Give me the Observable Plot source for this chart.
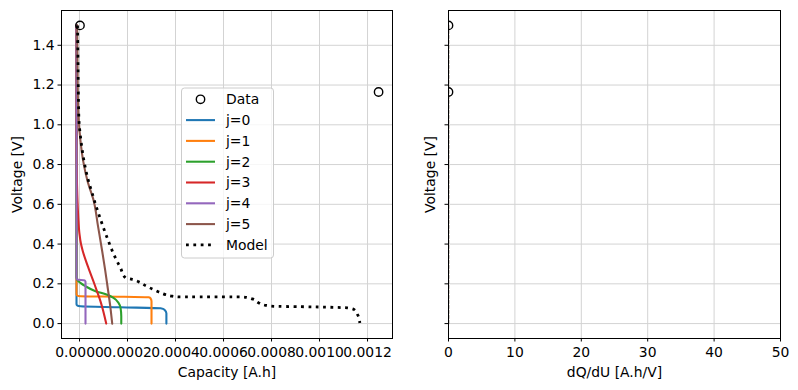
<!DOCTYPE html>
<html>
<head>
<meta charset="utf-8">
<script src="https://cdn.jsdelivr.net/npm/d3@7"></script>
<script src="https://cdn.jsdelivr.net/npm/@observablehq/plot@0.6"></script>
<style>
  html, body { margin: 0; padding: 0; background: white; }
  #fig { position: relative; width: 798px; height: 390px; font-family: "DejaVu Sans", sans-serif; }
  #fig > div { position: absolute; top: 0; }
</style>
</head>
<body>
<div id="fig"><div id="left" style="left:0"></div><div id="right" style="left:400px"></div></div>
<script>
// ---- data ----
const capTicks = [0, 0.0002, 0.0004, 0.0006, 0.0008, 0.0010, 0.0012];
const voltTicks = [0, 0.2, 0.4, 0.6, 0.8, 1.0, 1.2, 1.4];
const dqduTicks = [0, 10, 20, 30, 40, 50];

const dataCap = [0.000002, 0.001246];
const dataV = [1.5, 1.165];
const dataDqdu = [0, 0];

const j0Cap = [-0.0000125, -0.0000125, -0.0000083, 0.0000042, 0.000171, 0.000338, 0.000354, 0.000362, 0.000362];
const j0V   = [1.5, 0.097, 0.090, 0.087, 0.082, 0.077, 0.070, 0.052, 0.0];

const j1Cap = [-0.0000125, -0.0000125, -0.0000083, 0.0000042, 0.000171, 0.000288, 0.000296, 0.0003, 0.0003];
const j1V   = [1.5, 0.148, 0.140, 0.1375, 0.135, 0.132, 0.127, 0.112, 0.0];

const j2Cap = [-0.0000125, -0.0000125, -0.0000042, 0.000025, 0.0000667, 0.0001125, 0.0001417, 0.0001625, 0.000171, 0.000174, 0.000174];
const j2V   = [1.5, 0.232, 0.213, 0.188, 0.163, 0.146, 0.129, 0.104, 0.079, 0.037, 0.0];

const j3Cap = [-0.0000125, -0.0000125, -0.0000113, -0.0000083, -0.000005, 0.0, 0.0000063, 0.0000138, 0.0000271, 0.0000375, 0.0000625, 0.0000771, 0.0000875, 0.0000958, 0.0001042, 0.0001113];
const j3V   = [1.5, 0.868, 0.75, 0.616, 0.53, 0.45, 0.40, 0.364, 0.314, 0.279, 0.198, 0.148, 0.112, 0.077, 0.037, 0.0];

const j4Cap = [-0.0000125, -0.0000125, -0.0000083, 0.0000208, 0.000025, 0.000025];
const j4V   = [1.5, 0.228, 0.221, 0.218, 0.21, 0.0];

const j5Cap = [-0.0000096, -0.0000083, -0.0000063, -0.0000029, 0.0000042, 0.0000154, 0.0000333, 0.0000596, 0.0000771, 0.0000946, 0.0001063, 0.0001154, 0.0001292, 0.0001363];
const j5V   = [1.5, 1.32, 1.12, 1.02, 0.918, 0.817, 0.717, 0.616, 0.49, 0.364, 0.274, 0.198, 0.077, 0.0];

const modelCap = [-0.0000083, -0.0000063, -0.0000042, -0.0000021, 0.0000063, 0.0000188, 0.0000375, 0.0000542, 0.0000667, 0.0000854, 0.0001154, 0.0001429, 0.0001708, 0.0001917, 0.0002196, 0.0002471, 0.000275, 0.0003029, 0.0003304, 0.0003583, 0.0003863, 0.0004138, 0.0006833, 0.0007196, 0.0007471, 0.000775, 0.0008096, 0.0009208, 0.0011154, 0.0011429, 0.0011596, 0.0011679];
const modelV   = [1.5, 1.32, 1.12, 1.02, 0.918, 0.817, 0.717, 0.65, 0.60, 0.532, 0.431, 0.348, 0.28, 0.23, 0.222, 0.21, 0.191, 0.174, 0.159, 0.146, 0.138, 0.134, 0.134, 0.124, 0.104, 0.092, 0.087, 0.085, 0.079, 0.071, 0.042, 0.003];

const dqduLineV = [1.5, 0.0];
const dqduLineVal = [0.05, 0.05];

const seriesNames = ["j=0", "j=1", "j=2", "j=3", "j=4", "j=5"];
const seriesColors = ["#1f77b4", "#ff7f0e", "#2ca02c", "#d62728", "#9467bd", "#8c564b"];
const seriesCap = [j0Cap, j1Cap, j2Cap, j3Cap, j4Cap, j5Cap];
const seriesV = [j0V, j1V, j2V, j3V, j4V, j5V];

// ---- build tables ----
const zip = (xs, ys, extra = {}) => xs.map((x, i) => ({x, y: ys[i], ...extra}));
const curves = seriesNames.flatMap((n, k) => zip(seriesCap[k], seriesV[k], {s: n}));
const model = zip(modelCap, modelV);
const data = zip(dataCap, dataV);
const data2 = zip(dataDqdu, dataV);
const dq = zip(dqduLineVal, dqduLineV);

const style = {fontFamily: "DejaVu Sans", fontSize: "13.9px", color: "black", background: "white", overflow: "visible"};
const grid = "#d3d3d3";
const yDomain = [-0.075, 1.575];

const left = Plot.plot({
  width: 400, height: 390,
  marginLeft: 61, marginRight: 8, marginTop: 10, marginBottom: 52,
  style,
  x: {domain: [-0.000075, 0.001304]},
  y: {domain: yDomain},
  color: {domain: seriesNames, range: seriesColors},
  marks: [
    Plot.gridX(capTicks, {stroke: grid, strokeOpacity: 1}),
    Plot.gridY(voltTicks, {stroke: grid, strokeOpacity: 1}),
    Plot.line(curves, {x: "x", y: "y", z: "s", stroke: "s", strokeWidth: 2.08, curve: "monotone-y"}),
    Plot.line(model, {x: "x", y: "y", stroke: "black", strokeWidth: 2.78, strokeDasharray: "2.78,4.58", strokeLinecap: "butt", curve: "monotone-y"}),
    Plot.dot(data, {x: "x", y: "y", r: 4.2, stroke: "black", strokeWidth: 1.4, fill: "none"}),
    Plot.frame({stroke: "black", strokeWidth: 1}),
    Plot.axisX(capTicks, {tickFormat: d3.format(".4f"), tickSize: 3.5, tickPadding: 5, label: "Capacity [A.h]", labelAnchor: "center", labelArrow: "none", labelOffset: 38}),
    Plot.axisY(voltTicks, {tickFormat: d3.format(".1f"), tickSize: 3.5, tickPadding: 3.5, label: "Voltage [V]", labelAnchor: "center", labelArrow: "none", labelOffset: 49})
  ]
});
document.getElementById("left").appendChild(left);

// legend inside the left axes
{
  const svg = d3.select(left);
  const g = svg.append("g").attr("font-family", "DejaVu Sans").attr("font-size", "13.9px").attr("text-anchor", "start");
  g.append("rect").attr("x", 181.5).attr("y", 88).attr("width", 92).attr("height", 170).attr("rx", 3)
    .attr("fill", "white").attr("fill-opacity", 0.8).attr("stroke", "#cccccc");
  const items = [{label: "Data", kind: "dot"}]
    .concat(seriesNames.map((n, i) => ({label: n, kind: "line", color: seriesColors[i]})))
    .concat([{label: "Model", kind: "dotted"}]);
  items.forEach((it, i) => {
    const y = 99.3 + i * 20.8;
    if (it.kind === "dot") {
      g.append("circle").attr("cx", 200.5).attr("cy", y).attr("r", 4.2).attr("fill", "none").attr("stroke", "black").attr("stroke-width", 1.4);
    } else if (it.kind === "line") {
      g.append("line").attr("x1", 186).attr("x2", 215).attr("y1", y).attr("y2", y).attr("stroke", it.color).attr("stroke-width", 2.08);
    } else {
      g.append("line").attr("x1", 186).attr("x2", 215).attr("y1", y).attr("y2", y).attr("stroke", "black").attr("stroke-width", 2.78).attr("stroke-dasharray", "2.78,4.58");
    }
    g.append("text").attr("x", 226).attr("y", y).attr("dy", "0.35em").attr("fill", "black").attr("text-anchor", "start").text(it.label);
  });
}

const right = Plot.plot({
  width: 398, height: 390,
  marginLeft: 48, marginRight: 18, marginTop: 10, marginBottom: 52,
  style,
  x: {domain: [0, 50]},
  y: {domain: yDomain},
  marks: [
    Plot.gridX(dqduTicks, {stroke: grid, strokeOpacity: 1}),
    Plot.gridY(voltTicks, {stroke: grid, strokeOpacity: 1}),
    Plot.line(dq, {x: "x", y: "y", stroke: "#7a6a5e", strokeWidth: 1, strokeDasharray: "3,2"}),
    Plot.dot(data2, {x: "x", y: "y", r: 4.2, stroke: "black", strokeWidth: 1.4, fill: "none", clip: true}),
    Plot.frame({stroke: "black", strokeWidth: 1}),
    Plot.axisX(dqduTicks, {tickFormat: d3.format("d"), tickSize: 3.5, tickPadding: 5, label: "dQ/dU [A.h/V]", labelAnchor: "center", labelArrow: "none", labelOffset: 38}),
    Plot.axisY(voltTicks, {tickFormat: () => "", tickSize: 3.5, label: "Voltage [V]", labelAnchor: "center", labelArrow: "none", labelOffset: 23})
  ]
});
document.getElementById("right").appendChild(right);
</script>
</body>
</html>
